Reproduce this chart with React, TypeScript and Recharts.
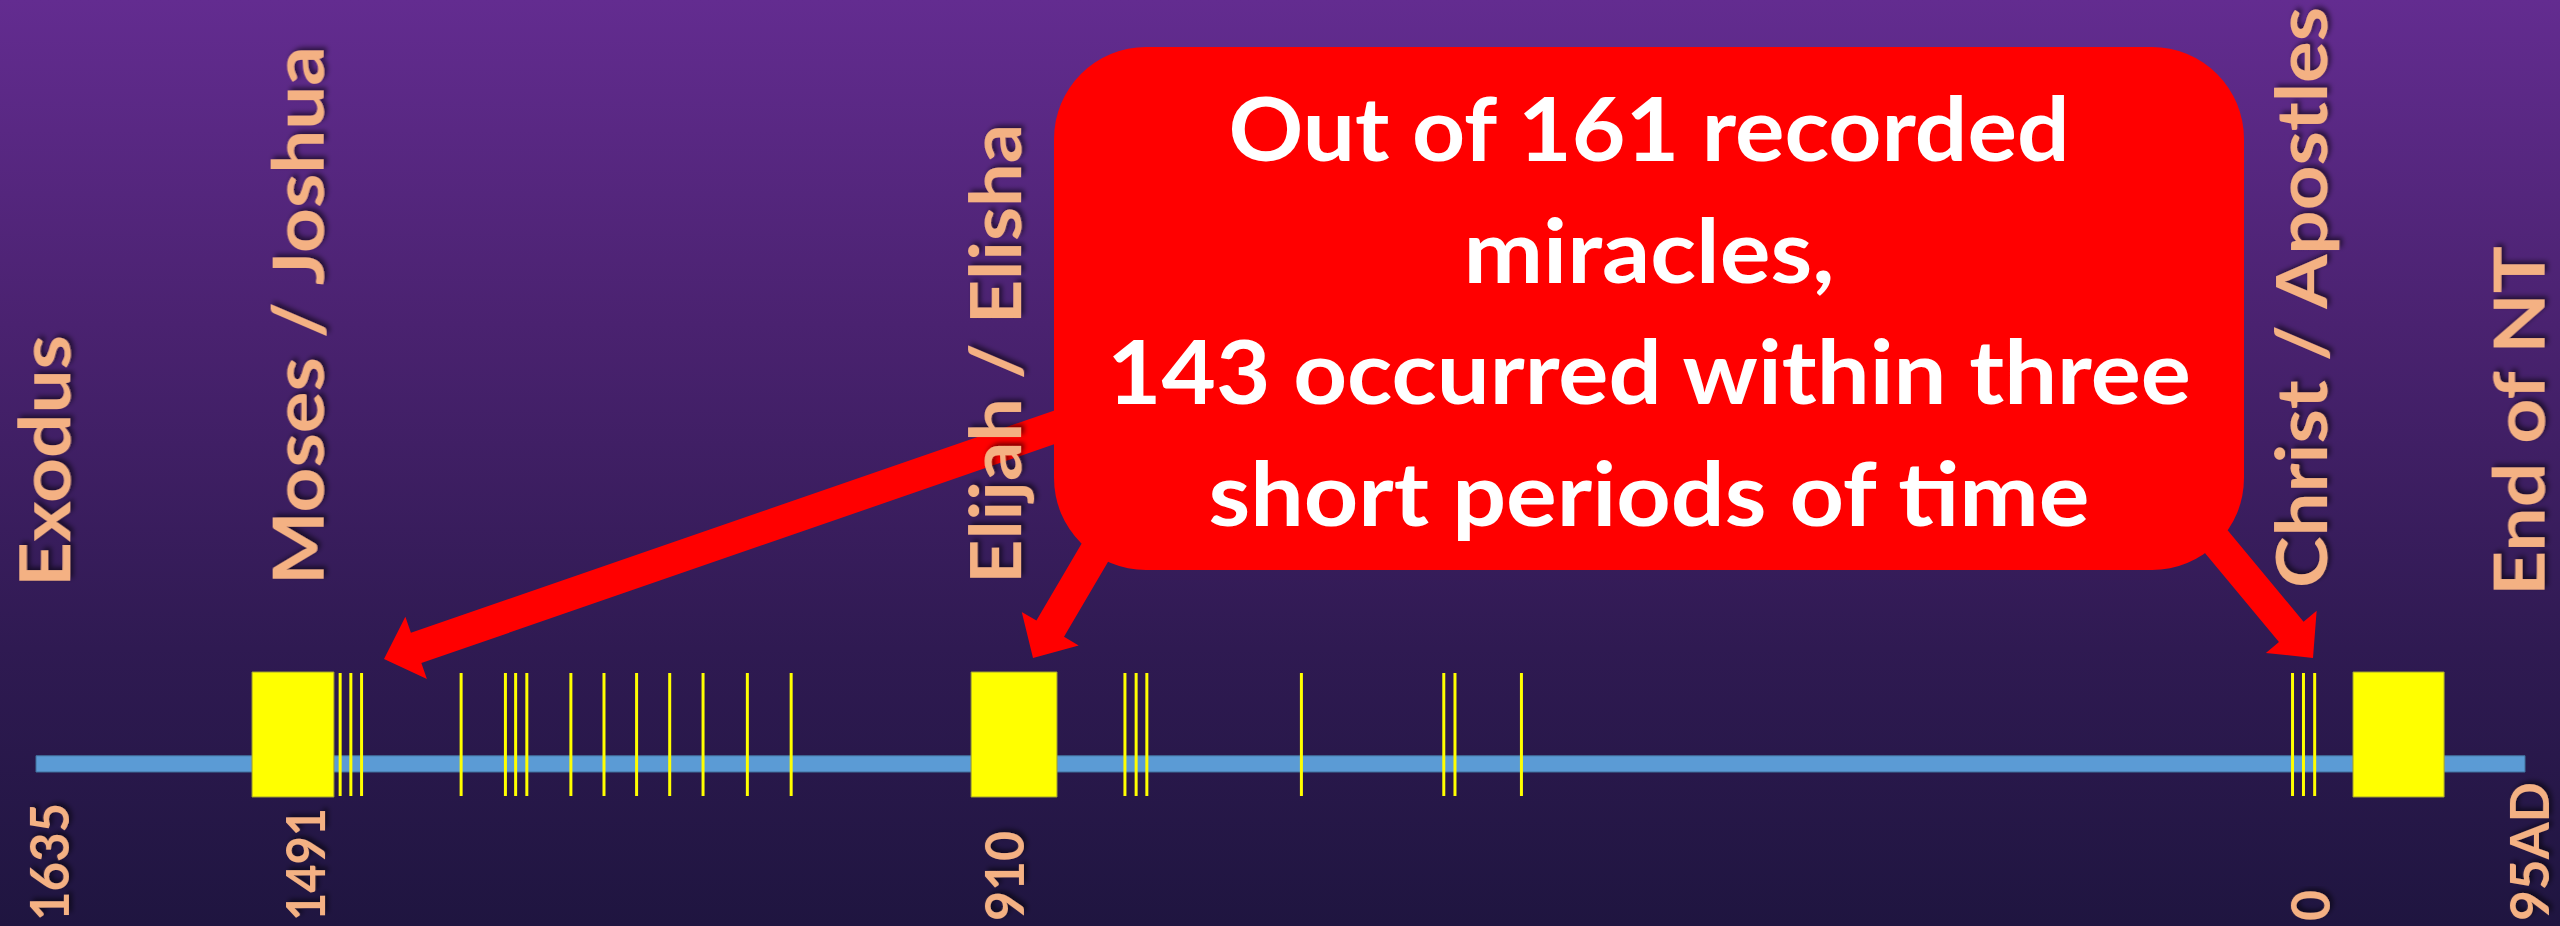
import React from 'react';
import { ComposedChart, XAxis, YAxis, ReferenceArea, Scatter } from 'recharts';

// ---------- DATA (positions along the timeline, % of its length: Exodus = 0, End of NT = 100)
const periodNames = ['Moses / Joshua', 'Elijah / Elisha', 'Christ / Apostles'];
const periodStart = [8.68, 37.57, 93.09];
const periodEnd = [11.97, 41.02, 96.75];

const miraclePositions = [
  12.22, 12.65, 13.08, 17.08, 18.86, 19.27, 19.72, 21.49, 22.82, 24.13, 25.46, 26.8, 28.58, 30.34,
  43.75, 44.2, 44.63, 50.84, 56.56, 57.01, 59.68,
  90.66, 91.1, 91.55,
];
const miracleLevel = 50;

const timelineFrom = 0;
const timelineTo = 100;
const bandLow = 20;
const bandHigh = 33;

const eraLabels = ['Exodus', 'Moses / Joshua', 'Elijah / Elisha', 'Christ / Apostles', 'End of NT'];
const eraPositions = [0.37, 10.55, 38.57, 91.04, 99.78];

const yearLabels = ['1635', '1491', '910', '0', '95AD'];
const yearPositions = [0.56, 10.85, 38.93, 91.4, 100.2];

const calloutLines = ['Out of 161 recorded', 'miracles,', '143 occurred within three', 'short periods of time'];

// ---------- STYLE
const W = 2560;
const H = 926;
const ORANGE = '#f4b183';
const FONT = 'Lato, "Noto Sans", sans-serif';

const ERA_LEN: Record<string, number> = {
  Exodus: 252,
  'Moses / Joshua': 539,
  'Elijah / Elisha': 460,
  'Christ / Apostles': 581,
  'End of NT': 350,
};
const ERA_BOTTOM: Record<string, number> = {
  Exodus: 587,
  'Moses / Joshua': 585,
  'Elijah / Elisha': 584,
  'Christ / Apostles': 588,
  'End of NT': 596,
};
const YEAR_LEN: Record<string, number> = { '1635': 118, '1491': 113, '910': 90, '0': 31, '95AD': 139 };

const miracleData = miraclePositions.map((pos) => ({ pos, level: miracleLevel }));

function EraTick(props: any) {
  const { x, payload } = props;
  const i = eraPositions.indexOf(payload.value);
  const label = eraLabels[i];
  if (!label) return null;
  const fs = 70;
  const bx = x + fs * 0.358;
  const by = ERA_BOTTOM[label];
  return (
    <text
      x={0}
      y={0}
      transform={`translate(${bx},${by}) rotate(-90)`}
      fill={ORANGE}
      fontFamily={FONT}
      fontWeight={700}
      fontSize={fs}
      textLength={ERA_LEN[label]}
      lengthAdjust="spacingAndGlyphs"
      filter="url(#txtShadow)"
    >
      {label}
    </text>
  );
}

function YearTick(props: any) {
  const { x, payload } = props;
  const i = yearPositions.indexOf(payload.value);
  const label = yearLabels[i];
  if (label === undefined) return null;
  const fs = 53;
  const bx = x + fs * 0.358;
  const by = 921;
  return (
    <text
      x={0}
      y={0}
      transform={`translate(${bx},${by}) rotate(-90)`}
      fill={ORANGE}
      fontFamily={FONT}
      fontWeight={700}
      fontSize={fs}
      textLength={YEAR_LEN[label]}
      lengthAdjust="spacingAndGlyphs"
      filter="url(#txtShadow)"
    >
      {label}
    </text>
  );
}

function MiracleMark(props: any) {
  const { cx, cy } = props;
  return <line x1={cx} x2={cx} y1={cy - 61.5} y2={cy + 61.5} stroke="#ffff00" strokeWidth={3} />;
}

function arrowPoints(sx: number, sy: number, tx: number, ty: number, shaft = 32, headLen = 34, headW = 66) {
  const dx = tx - sx;
  const dy = ty - sy;
  const L = Math.hypot(dx, dy);
  const ux = dx / L;
  const uy = dy / L;
  const nx = -uy;
  const ny = ux;
  const bx = tx - ux * headLen;
  const by = ty - uy * headLen;
  const pts = [
    [sx + (nx * shaft) / 2, sy + (ny * shaft) / 2],
    [bx + (nx * shaft) / 2, by + (ny * shaft) / 2],
    [bx + (nx * headW) / 2, by + (ny * headW) / 2],
    [tx, ty],
    [bx - (nx * headW) / 2, by - (ny * headW) / 2],
    [bx - (nx * shaft) / 2, by - (ny * shaft) / 2],
    [sx - (nx * shaft) / 2, sy - (ny * shaft) / 2],
  ];
  return pts.map((p) => p.join(',')).join(' ');
}

const calloutBaselines = [161, 283, 404, 526];
const calloutLen = [841, 371, 1084, 881];

export default function App() {
  return (
    <div
      style={{
        position: 'absolute',
        left: 0,
        top: 0,
        width: W,
        height: H,
        overflow: 'hidden',
        background: 'linear-gradient(to bottom, #632c90 0%, #4a2270 35%, #2f1a52 70%, #1f1540 100%)',
      }}
    >
      <svg width={W} height={H} style={{ position: 'absolute', left: 0, top: 0 }}>
        <defs>
          <filter id="txtShadow" x="-10%" y="-30%" width="120%" height="160%">
            <feDropShadow dx="3" dy="3" stdDeviation="2.5" floodColor="#000" floodOpacity="0.55" />
          </filter>
        </defs>
        <polygon points={arrowPoints(1064, 424, 384, 659)} fill="#ff0000" />
        <polygon points={arrowPoints(1134, 486, 1033, 658)} fill="#ff0000" />
        <polygon points={arrowPoints(2185, 504, 2313, 658)} fill="#ff0000" />
        <rect x={1054} y={47} width={1190} height={523} rx={92} ry={92} fill="#ff0000" />
        {calloutLines.map((line, i) => (
          <text
            key={line}
            x={1649}
            y={calloutBaselines[i]}
            textAnchor="middle"
            fill="#ffffff"
            fontFamily={FONT}
            fontWeight={700}
            fontSize={88}
            textLength={calloutLen[i]}
            lengthAdjust="spacingAndGlyphs"
          >
            {line}
          </text>
        ))}
      </svg>
      <div style={{ position: 'absolute', left: 0, top: 0 }}>
        <ComposedChart
          width={W}
          height={H}
          data={miracleData}
          margin={{ top: 671, right: 35, bottom: 128, left: 36 }}
        >
          <XAxis
            xAxisId="top"
            orientation="top"
            type="number"
            dataKey="pos"
            domain={[timelineFrom, timelineTo]}
            ticks={eraPositions}
            tick={(p: any) => <EraTick {...p} />}
            interval={0}
            axisLine={false}
            tickLine={false}
            height={1}
            allowDataOverflow
          />
          <XAxis
            xAxisId="bottom"
            orientation="bottom"
            type="number"
            dataKey="pos"
            domain={[timelineFrom, timelineTo]}
            ticks={yearPositions}
            tick={(p: any) => <YearTick {...p} />}
            interval={0}
            axisLine={false}
            tickLine={false}
            height={1}
            allowDataOverflow
          />
          <YAxis type="number" domain={[0, 100]} hide />
          <ReferenceArea
            xAxisId="bottom"
            x1={timelineFrom}
            x2={timelineTo}
            y1={bandLow}
            y2={bandHigh}
            fill="#5b9bd5"
            fillOpacity={1}
            stroke="#41719c"
            strokeWidth={1}
          />
          {periodNames.map((name, i) => (
            <ReferenceArea
              key={name}
              xAxisId="bottom"
              x1={periodStart[i]}
              x2={periodEnd[i]}
              y1={0}
              y2={100}
              fill="#ffff00"
              fillOpacity={1}
              stroke="#a0a030"
              strokeWidth={1}
            />
          ))}
          <Scatter
            xAxisId="bottom"
            dataKey="level"
            data={miracleData}
            shape={(p: any) => <MiracleMark {...p} />}
            isAnimationActive={false}
          />
        </ComposedChart>
      </div>
    </div>
  );
}
